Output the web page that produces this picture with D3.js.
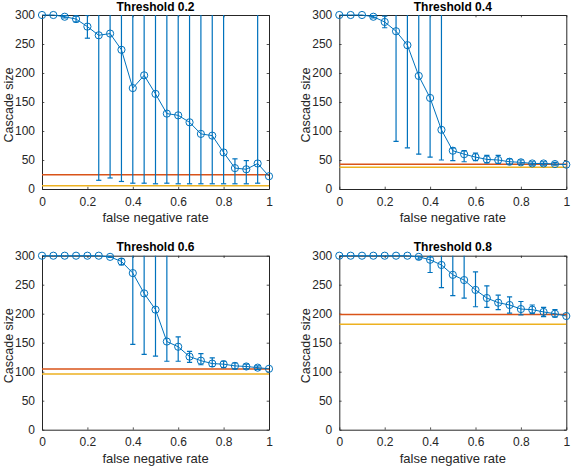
<!DOCTYPE html>
<html>
<head>
<meta charset="utf-8">
<script src="https://cdn.jsdelivr.net/npm/d3@7"></script>
<style>
html,body{margin:0;padding:0;background:#fff;}
svg{display:block;}
text{font-family:"Liberation Sans",Arial,Helvetica,sans-serif;}
</style>
</head>
<body>
<svg id="chart" width="572" height="467"></svg>
<script>
// ---- data ----
const fnr = [0,0.05,0.1,0.15,0.2,0.25,0.3,0.35,0.4,0.45,0.5,0.55,0.6,0.65,0.7,0.75,0.8,0.85,0.9,0.95,1];
const titles = ["Threshold 0.2","Threshold 0.4","Threshold 0.6","Threshold 0.8"];

const mean02 = [300,300,297,293,280,265,268,240,174,196,164,130,127,115,95,92,63,36,34,44,22];
const lo02   = [300,300,295,288,260,15,19,13,10,10,9,10,9,9,9,9,9,9,9,10,22];
const hi02   = [300,300,299,298,300,320,320,320,320,320,320,320,320,320,320,320,320,52,49,320,22];

const mean04 = [300,300,300,297,288,272,248,195,157,102,66,60,55,51,50,47,46,44,44,43,42];
const lo04   = [300,300,300,295,278,82,71,60,55,50,49,47,49,45,44,43,43,41,41,41,42];
const hi04   = [300,300,300,299,298,320,320,320,320,320,71,66,62,58,58,52,50,47,47,46,42];

const mean06 = [300,300,300,300,300,300,298,290,270,235,207,152,143,126,119,114,113,110,109,107,105];
const lo06   = [300,300,300,300,300,300,297,284,147,130,127,118,118,116,112,109,107,105,105,104,105];
const hi06   = [300,300,300,300,300,300,300,295,320,320,320,320,160,135,131,124,118,115,113,110,105];

const mean08 = [300,300,300,300,300,300,300,298,293,284,267,258,241,227,219,215,208,207,203,200,196];
const lo08   = [300,300,300,300,300,300,300,294,271,245,231,227,212,211,207,201,198,200,195,194,196];
const hi08   = [300,300,300,300,300,300,300,300,298,320,320,320,272,248,232,229,221,215,211,207,196];

const redLine    = [24.5, 42.5, 104.5, 198.5];
const yellowLine = [5.5, 37.5, 96, 182];

const xTicks = [0,0.2,0.4,0.6,0.8,1];
const yTicks = [0,50,100,150,200,250,300];

const means = [mean02, mean04, mean06, mean08];
const los = [lo02, lo04, lo06, lo08];
const his = [hi02, hi04, hi06, hi08];

// ---- layout ----
const lefts = [42, 339.3];
const tops = [15, 255.7];
const W = 227, H = 174;
const blue = "#0072BD", red = "#D95319", yellow = "#EDB120", axisCol = "#262626";

const svg = d3.select("#chart");

for (let p = 0; p < 4; p++) {
  const ox = lefts[p % 2], oy = tops[Math.floor(p / 2)];
  const g = svg.append("g").attr("transform", `translate(${ox},${oy})`);
  const x = d3.scaleLinear().domain([0, 1]).range([0, W]);
  const y = d3.scaleLinear().domain([0, 300]).range([H, 0]);

  const clipId = "clip" + p;
  g.append("clipPath").attr("id", clipId)
    .append("rect").attr("x", 0).attr("y", 0).attr("width", W).attr("height", H);

  const tl = 2.3;
  const ax = [
    g.append("g").attr("transform", `translate(0,${H})`).call(d3.axisBottom(x).tickValues(xTicks).tickFormat(d3.format("~g")).tickSizeInner(-tl).tickSizeOuter(0).tickPadding(8)),
    g.append("g").call(d3.axisTop(x).tickValues(xTicks).tickFormat("").tickSizeInner(-tl).tickSizeOuter(0)),
    g.append("g").call(d3.axisLeft(y).tickValues(yTicks).tickFormat(d3.format("d")).tickSizeInner(-tl).tickSizeOuter(0).tickPadding(7)),
    g.append("g").attr("transform", `translate(${W},0)`).call(d3.axisRight(y).tickValues(yTicks).tickFormat("").tickSizeInner(-tl).tickSizeOuter(0))
  ];
  ax.forEach(a => {
    a.select(".domain").attr("stroke", axisCol).attr("stroke-width", 1);
    a.selectAll(".tick line").attr("stroke", axisCol).attr("stroke-width", 0.8);
    a.selectAll(".tick text").attr("fill", axisCol).style("font-size", "12px");
  });

  const plot = g.append("g").attr("clip-path", `url(#${clipId})`);
  plot.append("line").attr("x1", x(0)).attr("x2", x(1))
    .attr("y1", y(redLine[p])).attr("y2", y(redLine[p]))
    .attr("stroke", red).attr("stroke-width", 1.5);
  plot.append("line").attr("x1", x(0)).attr("x2", x(1))
    .attr("y1", y(yellowLine[p])).attr("y2", y(yellowLine[p]))
    .attr("stroke", yellow).attr("stroke-width", 1.5);

  const m = means[p], lo = los[p], hi = his[p];
  const cap = 2.6;
  fnr.forEach((f, i) => {
    if (hi[i] - lo[i] < 0.5) return;
    const cx = x(f);
    plot.append("line").attr("x1", cx).attr("x2", cx).attr("y1", y(lo[i])).attr("y2", y(hi[i]))
      .attr("stroke", blue).attr("stroke-width", 1.2);
    [lo[i], hi[i]].forEach(v => {
      plot.append("line").attr("x1", cx - cap).attr("x2", cx + cap).attr("y1", y(v)).attr("y2", y(v))
        .attr("stroke", blue).attr("stroke-width", 1.2);
    });
  });

  const line = d3.line().x((d, i) => x(fnr[i])).y(d => y(d));
  g.append("path").datum(m).attr("d", line).attr("fill", "none")
    .attr("stroke", blue).attr("stroke-width", 1);

  g.selectAll("circle.mk").data(m).enter().append("circle").attr("class", "mk")
    .attr("cx", (d, i) => x(fnr[i])).attr("cy", d => y(d)).attr("r", 3.6)
    .attr("fill", "none").attr("stroke", blue).attr("stroke-width", 1);

  g.append("text").attr("x", W / 2).attr("y", -4.5).attr("text-anchor", "middle")
    .style("font-size", "12px").style("font-weight", "bold").attr("fill", "#000").text(titles[p]);
  g.append("text").attr("x", W / 2).attr("y", H + 33).attr("text-anchor", "middle")
    .style("font-size", "13px").attr("fill", axisCol).text("false negative rate");
  g.append("text").attr("transform", `translate(-29,${H / 2 + 3}) rotate(-90)`).attr("text-anchor", "middle")
    .style("font-size", "12.5px").attr("fill", axisCol).text("Cascade size");
}
</script>
</body>
</html>
